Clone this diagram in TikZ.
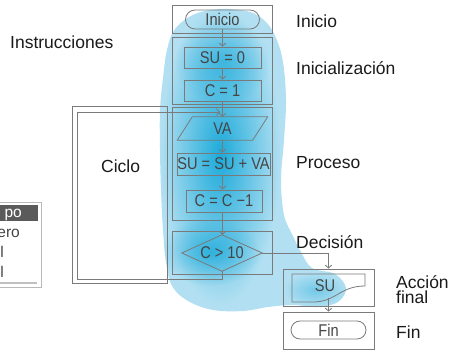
\documentclass[tikz,border=0pt]{standalone}
\usepackage{fontspec}
\setmainfont{Liberation Sans}
\newfontfamily\boxfont[FakeStretch=0.86]{Liberation Sans}
\usetikzlibrary{arrows.meta,shapes.misc,fadings,calc}
\definecolor{lineC}{HTML}{7A7A7A}
\definecolor{txtC}{HTML}{454545}
\definecolor{lblC}{HTML}{1A1A1A}
\definecolor{blobC}{HTML}{B2E0F2}
\definecolor{coreC}{HTML}{15A8D9}
\definecolor{bandC}{HTML}{5A5A5A}
\tikzfading[name=softfade, inner color=transparent!0, outer color=transparent!100]
\tikzset{
  frame/.style={draw=lineC, line width=0.8pt, inner sep=0pt, minimum width=100pt},
  boxn/.style={draw=lineC, line width=0.8pt, inner sep=0pt, font=\boxfont\fontsize{17}{17}\selectfont, text=txtC},
  bare/.style={inner sep=0pt, font=\boxfont\fontsize{17}{17}\selectfont, text=txtC},
  term/.style={rounded rectangle, draw=lineC, line width=0.8pt, inner sep=0pt, font=\boxfont\fontsize{17}{17}\selectfont, text=txtC},
  shapeline/.style={draw=lineC, line width=0.8pt},
  flow/.style={draw=lineC, line width=0.8pt, -{Straight Barb[length=3pt,width=6.5pt]}},
  lbl/.style={anchor=base west, inner sep=0pt, font=\fontsize{17.5}{17.5}\selectfont, text=lblC},
  tbltxt/.style={anchor=base east, inner sep=0pt, font=\fontsize{15.5}{15.5}\selectfont, text=txtC},
}
\def\blobpath{plot[smooth cycle, tension=0.6] coordinates {
 (222,9) (250,12) (266,22) (276,38) (283,62) (286,100) (284,140) (281,180)
 (284,215) (293,236) (301,252) (312,268) (335,274) (346,288) (338,302) (318,307)
 (293,305) (268,307) (243,311) (213,310) (188,301) (172,286) (166,262)
 (163,230) (161,190) (160,150) (160,110) (163,78) (167,50) (175,29) (195,14)}}
\begin{document}
\begin{tikzpicture}[x=1pt,y=-1pt]
\useasboundingbox (0,0) rectangle (450,350);

% blue glow
\fill[blobC] \blobpath;
\begin{scope}
  \clip \blobpath;
  \fill[coreC, path fading=softfade, fill opacity=0.95] (220,155) ellipse (60 and 150);
  \fill[coreC, path fading=softfade, fill opacity=0.75] (210,252) ellipse (50 and 34);
  \fill[coreC, path fading=softfade, fill opacity=0.6] (222,62) ellipse (48 and 42);
  \fill[coreC, path fading=softfade, fill opacity=0.4] (315,290) ellipse (32 and 17);
\end{scope}

% left table (cropped)
\draw[draw=gray!55, line width=0.6pt] (-10,202) rectangle (41,287);
\fill[bandC] (-10,205) rectangle (38,221);
\node[tbltxt, text=white] (tp) at (22,217) {po};
\node[tbltxt] (tr1) at (20,237) {ero};
\node[tbltxt] (tr2) at (4,257) {l};
\node[tbltxt] (tr3) at (4,277) {l};
\draw[gray!50, line width=1.2pt] (-10,283) -- (37,283);

% loop frame
\node[draw=lineC, line width=0.8pt, inner sep=0pt, minimum width=95pt, minimum height=177pt] (lf) at (119.5,194.5) {};

% column frames
\node[frame, minimum height=28pt] (f1) at (222,19) {};
\node[frame, minimum height=67pt] (f2) at (222,70.5) {};
\node[frame, minimum height=113pt] (f3) at (222,163.5) {};
\node[frame, minimum height=43pt] (f4) at (222,252.5) {};
\node[draw=lineC, line width=0.8pt, inner sep=0pt, minimum width=91pt, minimum height=37pt] (f5) at (328.5,287.5) {};
\node[draw=lineC, line width=0.8pt, inner sep=0pt, minimum width=91pt, minimum height=37pt] (f6) at (328.5,330.5) {};

% inner shapes
\node[term, minimum width=74pt, minimum height=19pt] (t1) at (222.5,19.5) {Inicio};
\node[boxn, minimum width=77pt, minimum height=21pt] (b1) at (222.5,57.5) {SU = 0};
\node[boxn, minimum width=77pt, minimum height=21pt] (b2) at (222.5,90.5) {C = 1};
\node[bare, minimum width=90pt, minimum height=23pt] (va) at (222.5,128.5) {VA};
\draw[shapeline] ($(va.north west)+(15,0)$) -- (va.north east) -- ($(va.south east)+(-15,0)$) -- (va.south west) -- cycle;
\node[boxn, minimum width=93pt, minimum height=22pt] (b3) at (223.5,164) {SU = SU + VA};
\node[boxn, minimum width=76pt, minimum height=22pt] (b4) at (224,201) {C = C −1};
\node[bare, minimum width=80pt, minimum height=36pt] (dm) at (222,253) {C > 10};
\draw[shapeline] (dm.west) -- (dm.north) -- (dm.east) -- (dm.south) -- cycle;
\draw[shapeline] (292,274) -- (365,274) -- (365,286) .. controls (340,286) and (336,302) .. (313,302) -- (292,302) -- cycle;
\node[bare] (doc) at (325,286) {SU};
\node[term, minimum width=75pt, minimum height=18pt] (t2) at (328.5,330) {Fin};

% connectors
\draw[flow] (t1.south) -- (t1.south |- b1.north);
\draw[flow] (b1.south) -- (b1.south |- b2.north);
\draw[flow] (b2.south) -- (b2.south |- va.north);
\draw[flow] (va.south) -- (va.south |- b3.north);
\draw[flow] (va.south |- b3.south) -- (va.south |- b4.north);
\draw[flow] (va.south |- b4.south) -- (va.south |- dm.north);
\coordinate (lp1) at (77,279);
\coordinate (lp2) at (77,112);
\coordinate (lpend) at (220,112);
\draw[flow] (dm.south) |- (lp1) -- (lp2) -- (lpend);
\draw[flow] (dm.east) -| (f5.north);
\coordinate (docb) at (328.5,298);
\draw[flow] (docb) -- (f6.north);

% labels
\node[lbl] (l1) at (296,28) {Inicio};
\node[lbl] (l2) at (296,75) {Inicialización};
\node[lbl] (l3) at (296,169) {Proceso};
\node[lbl] (l4) at (296,248) {Decisión};
\node[lbl] (l5a) at (396,288) {Acción};
\node[lbl] (l5b) at (396,303) {final};
\node[lbl] (l6) at (396,338) {Fin};
\node[lbl] (l7) at (10,49) {Instrucciones};
\node[lbl] (l8) at (101,172) {Ciclo};
\end{tikzpicture}
\end{document}
